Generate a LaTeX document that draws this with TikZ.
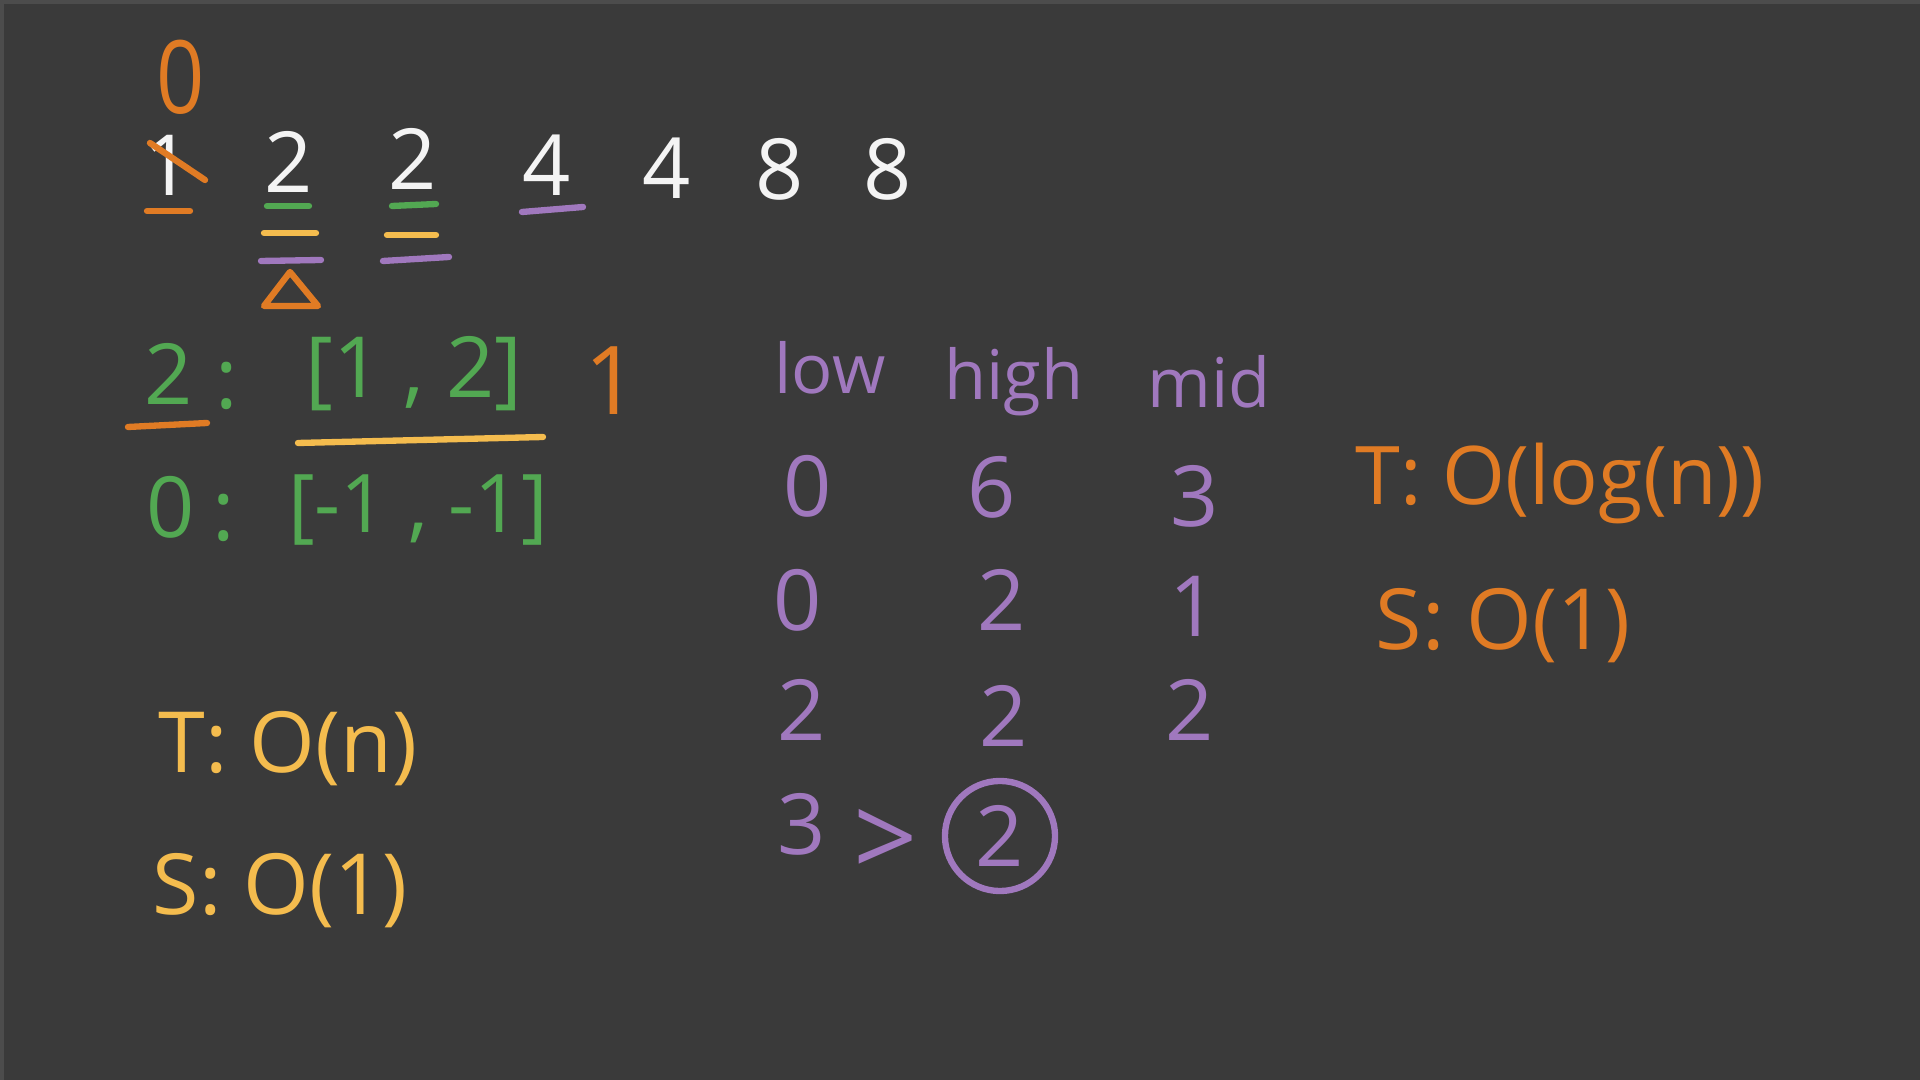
\documentclass[tikz,border=0pt]{standalone}
\usepackage{fontspec}
\setmainfont{Open Sans}
\usetikzlibrary{positioning}
\definecolor{Board}{HTML}{3A3A3A}
\definecolor{Chalk}{HTML}{F4F4F4}
\definecolor{Orange}{HTML}{E07B24}
\definecolor{Yellow}{HTML}{F4BC4E}
\definecolor{Green}{HTML}{52A852}
\definecolor{Purple}{HTML}{A078BE}

\begin{document}
\begin{tikzpicture}[
  x=0.01cm,y=-0.01cm,
  num/.style={inner sep=0pt,font=\fontsize{24}{28}\selectfont},
  word/.style={inner sep=0pt,anchor=base,font=\fontsize{19.5}{24}\selectfont},
  line/.style={inner sep=0pt,anchor=base,font=\fontsize{24}{28}\selectfont},
  pen/.style={line width=1.8pt,line cap=round,line join=round}
]
\fill[Board] (0,0) rectangle (1920,1080);
\useasboundingbox (0,0) rectangle (1920,1080);
\draw[black!70,line width=2pt] (0,1080) -- (0,0) -- (1920,0);

% the array
\node[num,text=Orange,yscale=1.2] (zero) at (181,77) {0};
\node[num,text=Chalk] (a0) at (168,165) {1};
\node[num,text=Chalk] (a1) at (289,162) {2};
\node[num,text=Chalk] (a2) at (413,159) {2};
\node[num,text=Chalk] (a3) at (547,165) {4};
\node[num,text=Chalk] (a4) at (667,168) {4};
\node[num,text=Chalk] (a5) at (780,169) {8};
\node[num,text=Chalk] (a6) at (888,169) {8};
\draw[pen,Orange] (150,143) -- (205,180);
\draw[pen,Orange] (147,211) -- (190,211);
\draw[pen,Green] (267,206) -- (309,206);
\draw[pen,Yellow] (264,233) -- (316,233);
\draw[pen,Purple] (261,261) -- (321,260);
\draw[pen,Orange] (290,272) -- (264,306) -- (318,306) -- cycle;
\draw[pen,Green] (392,206) -- (436,204);
\draw[pen,Yellow] (387,235) -- (436,235);
\draw[pen,Purple] (383,261) -- (449,257);
\draw[pen,Purple] (522,212) -- (583,207);

% target -> range
\node[num,text=Green] (t1) at (169,374) {2};
\node[num,text=Green] (c1) at (227,386) {:};
\node[line,text=Green] (r1) at (414,398) {[1 , 2]};
\node[num,text=Orange,font=\fontsize{27}{30}\selectfont] (k1) at (612,381) {1};
\draw[pen,Orange] (128,427) -- (207,423);
\draw[pen,Yellow] (298,443) -- (543,437);
\node[num,text=Green] (t2) at (171,507) {0};
\node[num,text=Green] (c2) at (224,518) {:};
\node[line,text=Green,font=\fontsize{23}{28}\selectfont] (r2) at (418,533) {[-1 , -1]};

% linear scan
\node[line,text=Yellow] (tn) at (288,773) {T: O(n)};
\node[line,text=Yellow] (sn) at (280,915) {S: O(1)};

% binary search trace
\node[word,text=Purple] (low) at (830,394) {low};
\node[word,text=Purple] (high) at (1014,400) {high};
\node[word,text=Purple] (mid) at (1209,408) {mid};
\node[num,text=Purple] (l1) at (808,486) {0};
\node[num,text=Purple] (h1) at (992,487) {6};
\node[num,text=Purple] (m1) at (1195,496) {3};
\node[num,text=Purple] (l2) at (798,600) {0};
\node[num,text=Purple] (h2) at (1002,600) {2};
\node[num,text=Purple] (m2) at (1194,606) {1};
\node[num,text=Purple] (l3) at (802,710) {2};
\node[num,text=Purple] (h3) at (1004,716) {2};
\node[num,text=Purple] (m3) at (1190,710) {2};
\node[num,text=Purple] (l4) at (802,824) {3};
\node[num,text=Purple,font=\fontsize{32}{36}\selectfont] (gt) at (886,843) {>};
\node[num,text=Purple,draw=Purple,pen,circle,minimum size=1.1cm] (h4) at (1000,836) {2};

% log time
\node[line,text=Orange,font=\fontsize{23}{28}\selectfont] (tl) at (1560,505) {T: O(log(n))};
\node[line,text=Orange] (sl) at (1503,650) {S: O(1)};
\end{tikzpicture}
\end{document}
